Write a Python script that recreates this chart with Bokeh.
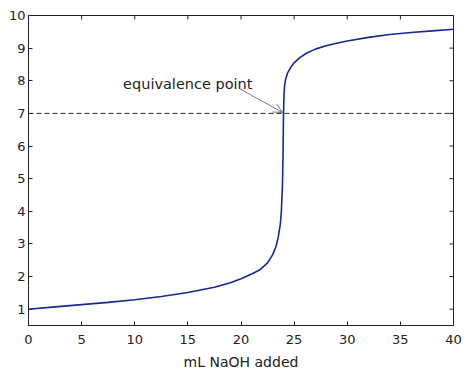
import math
from bokeh.plotting import figure
from bokeh.models import Range1d, FixedTicker, Span, Arrow, OpenHead, Label
from bokeh.embed import file_html
from bokeh.resources import INLINE

# ---- data ----
ml_naoh = [0, 2.5, 5, 7.5, 10, 12.5, 15, 17.5, 19, 20, 21, 21.8, 22.5, 23.0,
           23.3, 23.5, 23.7, 23.8, 23.9, 23.96, 24.0, 24.05, 24.1, 24.2, 24.4,
           24.7, 25.0, 25.5, 26.2, 27, 28, 29, 30, 32, 34, 36, 38, 40]
ph = [1.00, 1.07, 1.14, 1.21, 1.29, 1.39, 1.51, 1.67, 1.81, 1.93, 2.08, 2.21,
      2.42, 2.68, 2.93, 3.2, 3.6, 4.0, 4.8, 5.8, 7.0, 7.6, 7.85, 8.05, 8.25,
      8.42, 8.55, 8.70, 8.85, 8.97, 9.07, 9.15, 9.22, 9.33, 9.42, 9.48, 9.53,
      9.58]
x_ticks = [0, 5, 10, 15, 20, 25, 30, 35, 40]
y_ticks = [1, 2, 3, 4, 5, 6, 7, 8, 9, 10]
x_min, x_max = 0, 40
y_min, y_max = 0.5, 10
eq_volume = 24.0
eq_ph = 7.0
x_label = "mL NaOH added"
annotation = "equivalence point"

FONT = "DejaVu Sans"
INK = "#222222"
TICK_LEN = 4

p = figure(width=467, height=372, output_backend="svg", toolbar_location=None,
           x_range=Range1d(x_min, x_max), y_range=Range1d(y_min, y_max),
           min_border_left=28, min_border_right=14, min_border_top=15,
           min_border_bottom=44)
p.background_fill_color = "white"
p.border_fill_color = "white"
p.grid.visible = False
p.outline_line_color = INK
p.outline_line_width = 1

for ax in (p.xaxis[0], p.yaxis[0]):
    ax.axis_line_color = INK
    ax.major_tick_line_color = INK
    ax.major_tick_in = TICK_LEN
    ax.major_tick_out = 0
    ax.minor_tick_line_color = None
    ax.major_label_text_font = FONT
    ax.major_label_text_color = INK
    ax.major_label_text_font_size = "13px"

p.xaxis.ticker = FixedTicker(ticks=x_ticks)
p.yaxis.ticker = FixedTicker(ticks=y_ticks)
p.xaxis.major_label_standoff = 9
p.yaxis.major_label_standoff = 3
p.xaxis.axis_label = x_label
p.xaxis.axis_label_text_font = FONT
p.xaxis.axis_label_text_font_size = "14px"
p.xaxis.axis_label_text_font_style = "normal"
p.xaxis.axis_label_text_color = INK
p.xaxis.axis_label_standoff = 7

# inward ticks on the top and right edges of the box
p.ray(x=x_ticks, y=[y_max] * len(x_ticks), length=TICK_LEN,
      length_units="screen", angle=-math.pi / 2, line_color=INK, line_width=1)
p.ray(x=[x_max] * len(y_ticks), y=y_ticks, length=TICK_LEN,
      length_units="screen", angle=math.pi, line_color=INK, line_width=1)

# dashed reference line at pH 7
p.add_layout(Span(location=eq_ph, dimension="width", line_color=INK,
                  line_width=1, line_dash="5 3"))

# titration curve
p.line(ml_naoh, ph, line_color="#14289a", line_width=1.6)

# annotation
p.add_layout(Arrow(end=OpenHead(size=9, line_color="#555555", line_width=0.8),
                   x_start=eq_volume - 4.1, y_start=eq_ph + 0.75,
                   x_end=eq_volume - 0.1, y_end=eq_ph + 0.03,
                   line_color="#555555", line_width=0.8))
p.add_layout(Label(x=eq_volume - 15.1, y=eq_ph + 0.9, text=annotation,
                   text_font=FONT, text_font_size="14.5px", text_color=INK,
                   text_baseline="alphabetic"))

open("out.html", "w").write(file_html(p, INLINE))
